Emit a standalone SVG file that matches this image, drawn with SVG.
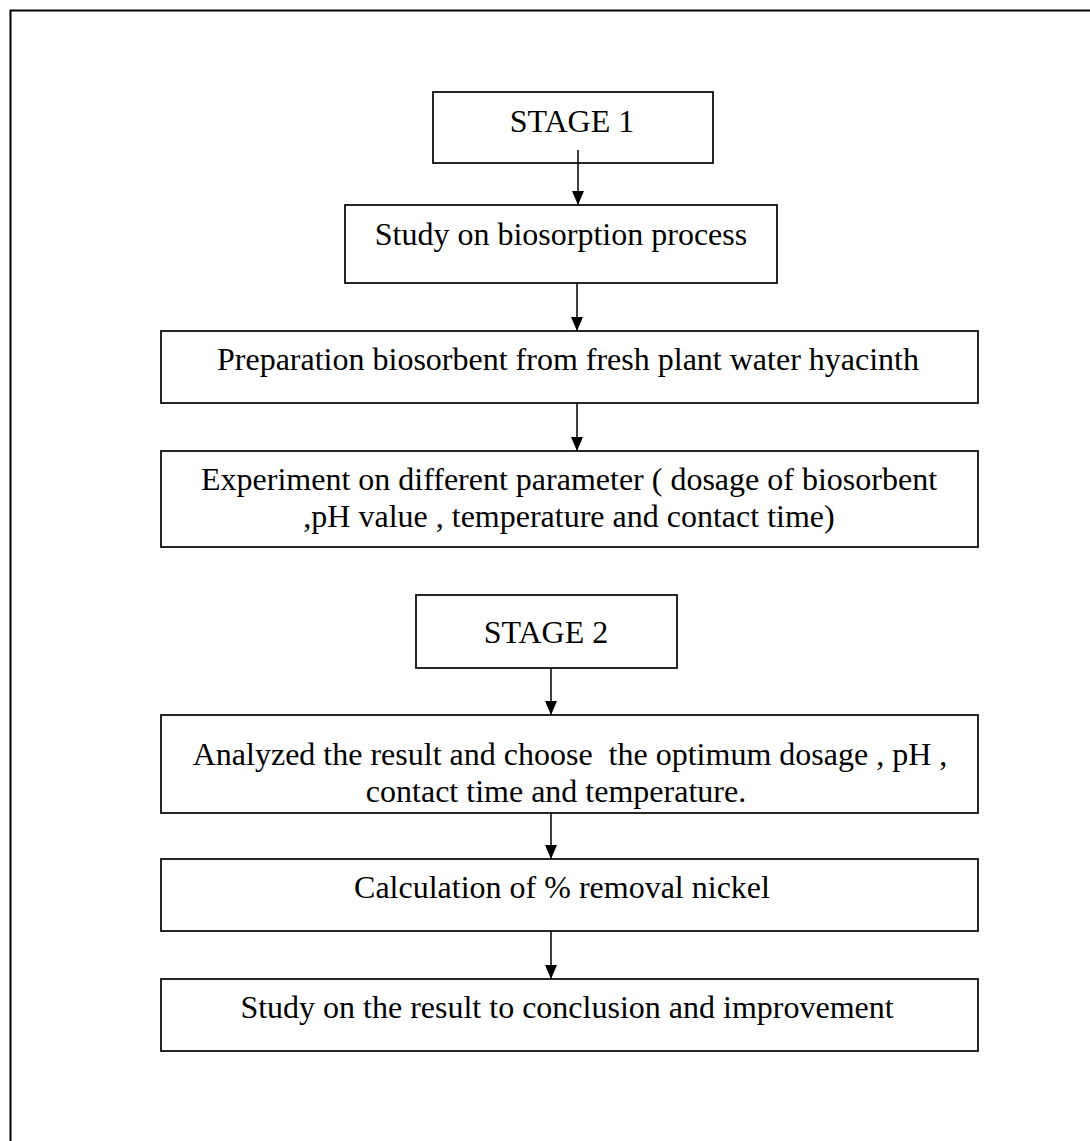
<svg xmlns="http://www.w3.org/2000/svg" width="1090" height="1141" viewBox="0 0 1090 1141">
<style>
.box{fill:#fff;stroke:#000;stroke-width:1.7}
.t{font-family:"Liberation Serif","Times New Roman",serif;font-size:32px;fill:#000;text-anchor:middle}
.c{stroke:#000;stroke-width:1.5;fill:none}
</style>
<defs>
<marker id="ah" viewBox="0 0 14 12" refX="14" refY="6" markerWidth="14" markerHeight="12" markerUnits="userSpaceOnUse" orient="auto">
<path d="M0,0 L14,6 L0,12 Z" fill="#000"/>
</marker>
</defs>
<rect width="1090" height="1141" fill="#fff"/>
<path d="M1090,10.5 H10.5 V1141" fill="none" stroke="#000" stroke-width="2"/>
<g id="stage1"><rect class="box" x="433" y="92" width="280" height="71"/><text class="t" x="572" y="132">STAGE 1</text></g>
<g id="n1"><rect class="box" x="345" y="205" width="432" height="78"/><text class="t" x="561" y="245">Study on biosorption process</text></g>
<g id="n2"><rect class="box" x="161" y="331" width="817" height="72"/><text class="t" x="568" y="370">Preparation biosorbent from fresh plant water hyacinth</text></g>
<g id="n3"><rect class="box" x="161" y="451" width="817" height="96"/><text class="t" x="569" y="490">Experiment on different parameter ( dosage of biosorbent</text><text class="t" x="569" y="527">,pH value , temperature and contact time)</text></g>
<g id="stage2"><rect class="box" x="416" y="595" width="261" height="73"/><text class="t" x="546" y="643">STAGE 2</text></g>
<g id="n4"><rect class="box" x="161" y="715" width="817" height="98"/><text class="t" x="570" y="765" xml:space="preserve">Analyzed the result and choose  the optimum dosage , pH ,</text><text class="t" x="556" y="802">contact time and temperature.</text></g>
<g id="n5"><rect class="box" x="161" y="859" width="817" height="72"/><text class="t" x="562" y="898">Calculation of % removal nickel</text></g>
<g id="n6"><rect class="box" x="161" y="979" width="817" height="72"/><text class="t" x="567" y="1018">Study on the result to conclusion and improvement</text></g>
<g id="connectors">
<path class="c" d="M578,150 V205" marker-end="url(#ah)"/>
<path class="c" d="M577,283 V331" marker-end="url(#ah)"/>
<path class="c" d="M577,403 V451" marker-end="url(#ah)"/>
<path class="c" d="M551,668 V715" marker-end="url(#ah)"/>
<path class="c" d="M551,813 V859" marker-end="url(#ah)"/>
<path class="c" d="M551,931 V979" marker-end="url(#ah)"/>
</g>
</svg>
